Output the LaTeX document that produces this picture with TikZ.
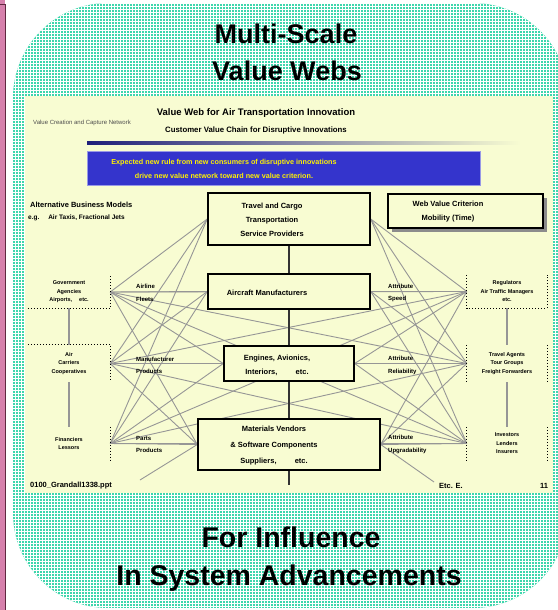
\documentclass[tikz,border=0pt]{standalone}
\usepackage{fontspec}
\setmainfont{Liberation Sans}
\usetikzlibrary{positioning,shadows}

\definecolor{panelteal}{RGB}{62,214,172}
\definecolor{slidecream}{RGB}{248,252,210}
\definecolor{webgray}{RGB}{150,150,150}
\definecolor{ruleblue}{RGB}{52,52,204}
\definecolor{stripepink}{RGB}{214,128,172}
\definecolor{stripeplum}{RGB}{96,40,64}

\pgfdeclarelayer{paper}
\pgfdeclarelayer{web}
\pgfsetlayers{paper,web,main}

\tikzset{
  tier/.style={draw, line width=1.4pt, fill=slidecream, inner sep=0pt},
  tiertext/.style={font=\fontsize{7.5}{14}\selectfont\bfseries, align=center, inner sep=0pt},
  cell/.style={inner sep=0pt, align=center, font=\fontsize{5.5}{8.5}\selectfont\bfseries},
  hubtext/.style={anchor=west, inner sep=0pt, align=left, font=\fontsize{6}{12.5}\selectfont\bfseries},
  strand/.style={draw=webgray, line width=0.9pt},
  cellrule/.style={dotted, line width=1pt},
  headline/.style={anchor=base, font=\fontsize{27}{30}\selectfont\bfseries},
  smalltext/.style={inner sep=0pt, font=\fontsize{7.5}{9}\selectfont\bfseries},
}

\begin{document}
\begin{tikzpicture}[x=1pt, y=-1pt]
    % Fix page size
    \useasboundingbox (0,0) rectangle (557,610);
    \clip (0,0) rectangle (557,610);

    % Draw background: pink strip, teal panel, cream slide
    \begin{pgfonlayer}{paper}
        \fill[stripepink] (0,0) rectangle (5,610);
        \draw[stripeplum, line width=1.5pt] (0,4.5) -- (5.5,4.5) -- (5.5,610);
        \begin{scope}
            \clip[rounded corners=95pt] (13,3) rectangle (568,608);
            \fill[panelteal] (13,3) rectangle (568,608);
            \draw[white, line width=0.8pt, step=3pt] (12,0) grid (570,610);
        \end{scope}
        \fill[slidecream] (25,96) rectangle (553,493);
    \end{pgfonlayer}

    % Titles
    \node[headline] (headA) at (286,44) {Multi-Scale};
    \node[headline] (headB) at (287,80) {Value Webs};
    \node[headline, font=\fontsize{28.5}{30}\selectfont\bfseries] (footA) at (291,547) {For Influence};
    \node[headline, font=\fontsize{28.5}{30}\selectfont\bfseries] (footB) at (289,585) {In System Advancements};

    % Slide heading
    \node[smalltext, font=\fontsize{9.5}{11}\selectfont\bfseries] (slidetitle) at (256,113) {Value Web for Air Transportation Innovation};
    \node[smalltext, font=\fontsize{6}{7}\selectfont, text=black!70, anchor=west] (slidenote) at (33,123) {Value Creation and Capture Network};
    \node[smalltext, font=\fontsize{7.8}{9}\selectfont\bfseries] (slidesub) at (256,130) {Customer Value Chain for Disruptive Innovations};
    \shade[left color=ruleblue!60!black, right color=slidecream] (87,141) rectangle (520,144);

    % Blue rule box
    \node[fill=ruleblue, draw=ruleblue!50, minimum width=393pt, minimum height=34pt, inner sep=0pt] (rulebox) at (283.5,168) {};
    \node[smalltext, font=\fontsize{7.2}{14}\selectfont\bfseries, text=yellow, align=center] (ruletext) at (224,169) {Expected new rule from new consumers of disruptive innovations\\drive new value network toward new value criterion.};

    % Business models note
    \node[smalltext, anchor=west] (models) at (30,205) {Alternative Business Models};
    \node[smalltext, font=\fontsize{6.5}{8}\selectfont\bfseries, anchor=west] (modelseg) at (28,218) {e.g. \quad Air Taxis, Fractional Jets};

    % Tiers of the value chain
    \node[tier, minimum width=162pt, minimum height=52pt] (travel) at (289,219) {};
    \node[tiertext] (travelcap) at (272,220) {Travel and Cargo\\Transportation\\Service Providers};
    \node[tier, minimum width=162pt, minimum height=35pt] (maker) at (289,291.5) {};
    \node[tiertext] (makercap) at (267,293) {Aircraft Manufacturers};
    \node[tier, minimum width=130pt, minimum height=35pt] (engines) at (289,363.5) {};
    \node[tiertext] (enginescap) at (277,365) {Engines, Avionics,\\Interiors, \hspace{14pt} etc.};
    \node[tier, minimum width=182pt, minimum height=51pt] (vendors) at (289,444.5) {};
    \node[tiertext, font=\fontsize{7.5}{16}\selectfont\bfseries] (vendorscap) at (274,446) {Materials Vendors\\\& Software Components\\Suppliers, \hspace{14pt} etc.};

    % Criterion box
    \node[tier, line width=1.2pt, minimum width=155pt, minimum height=34pt,
          drop shadow={shadow xshift=4pt, shadow yshift=-4pt, fill=black!45, opacity=1}] (criterion) at (465.5,211) {};
    \node[tiertext] (criterioncap) at (448,212) {Web Value Criterion\\Mobility (Time)};

    % Side cells
    \node[cell, minimum width=82pt, minimum height=32pt] (lgA) at (69,292) {Government\\Agencies\\Airports, \quad etc.};
    \node[cell, minimum width=82pt, minimum height=37pt] (lgB) at (69,363.5) {Air\\Carriers\\Cooperatives};
    \node[cell, minimum width=82pt, minimum height=33pt] (lgC) at (69,443.5) {Financiers\\Lessors};
    \node[cell, minimum width=80pt, minimum height=33pt] (rgA) at (507,291.5) {Regulators\\Air Traffic Managers\\etc.};
    \node[cell, minimum width=80pt, minimum height=37pt] (rgB) at (507,363.5) {Travel Agents\\Tour Groups\\Freight Forwarders};
    \node[cell, minimum width=80pt, minimum height=33pt] (rgC) at (507,443.5) {Investors\\Lenders\\Insurers};

    \draw[cellrule] (lgA.south west) -- (lgA.south east) -- (lgA.north east);
    \draw[cellrule] (lgB.north west) -- (lgB.north east) -- (lgB.south east);
    \draw[cellrule] (lgC.north east) -- (lgC.south east);
    \draw[cellrule] (rgA.north west) -- (rgA.south west) -- (rgA.south east) -- (rgA.north east);
    \draw[cellrule] (rgB.north west) -- (rgB.south west);
    \draw[cellrule] (rgB.north east) -- (rgB.south east);
    \draw[cellrule] (rgC.north west) -- (rgC.south west);
    \draw[cellrule] (rgC.north east) -- (rgC.south east);

    \draw[webgray, line width=1.2pt] (lgA.south) -- (lgB.north);
    \draw[webgray, line width=1.2pt] (lgB.south) -- (lgC.north);
    \draw[webgray, line width=1.2pt] (rgA.south) -- (rgB.north);
    \draw[webgray, line width=1.2pt] (rgB.south) -- (rgC.north);

    % Hub labels
    \node[hubtext] (laA) at (136,293) {Airline\\Fleets};
    \node[hubtext] (laB) at (136,365.5) {Manufacturer\\Products};
    \node[hubtext] (laC) at (136,444.5) {Parts\\Products};
    \node[hubtext] (raA) at (388,293) {Attribute\\Speed};
    \node[hubtext] (raB) at (388,365.5) {Attribute\\Reliability};
    \node[hubtext] (raC) at (388,444.5) {Attribute\\Upgradability};

    % Spine of the chain
    \coordinate (spinefoot) at (289,485);
    \draw[line width=1.3pt, black!80] (travel) -- (maker);
    \draw[line width=1.3pt, black!80] (maker) -- (engines);
    \draw[line width=1.3pt, black!80] (engines) -- (vendors);
    \draw[line width=1.3pt, black!80] (vendors.south) -- (spinefoot);

    % Footer
    \node[smalltext, anchor=west] (filename) at (30,486) {0100\_Grandall1338.ppt};
    \node[smalltext] (etcnote) at (451,486) {Etc. E.};
    \node[smalltext] (pageno) at (544,486) {11};
    \coordinate (lowleft) at (140,480);
    \coordinate (lowright) at (434,482);

    % The web
    \begin{pgfonlayer}{web}
        \foreach \hub in {lgA,lgB,lgC}
            \foreach \tierbox in {travel,maker,engines,vendors}
                \draw[strand] (\hub.east) -- (\tierbox.west);
        \foreach \hub in {rgA,rgB,rgC}
            \foreach \tierbox in {travel,maker,engines,vendors}
                \draw[strand] (\hub.west) -- (\tierbox.east);
        \foreach \hubl in {lgA,lgB,lgC}
            \foreach \hubr in {rgA,rgB,rgC}
                \draw[strand] (\hubl.east) -- (\hubr.west);
        \draw[strand] (vendors.west) -- (lowleft);
        \draw[strand] (vendors.east) -- (lowright);
    \end{pgfonlayer}
\end{tikzpicture}
\end{document}
